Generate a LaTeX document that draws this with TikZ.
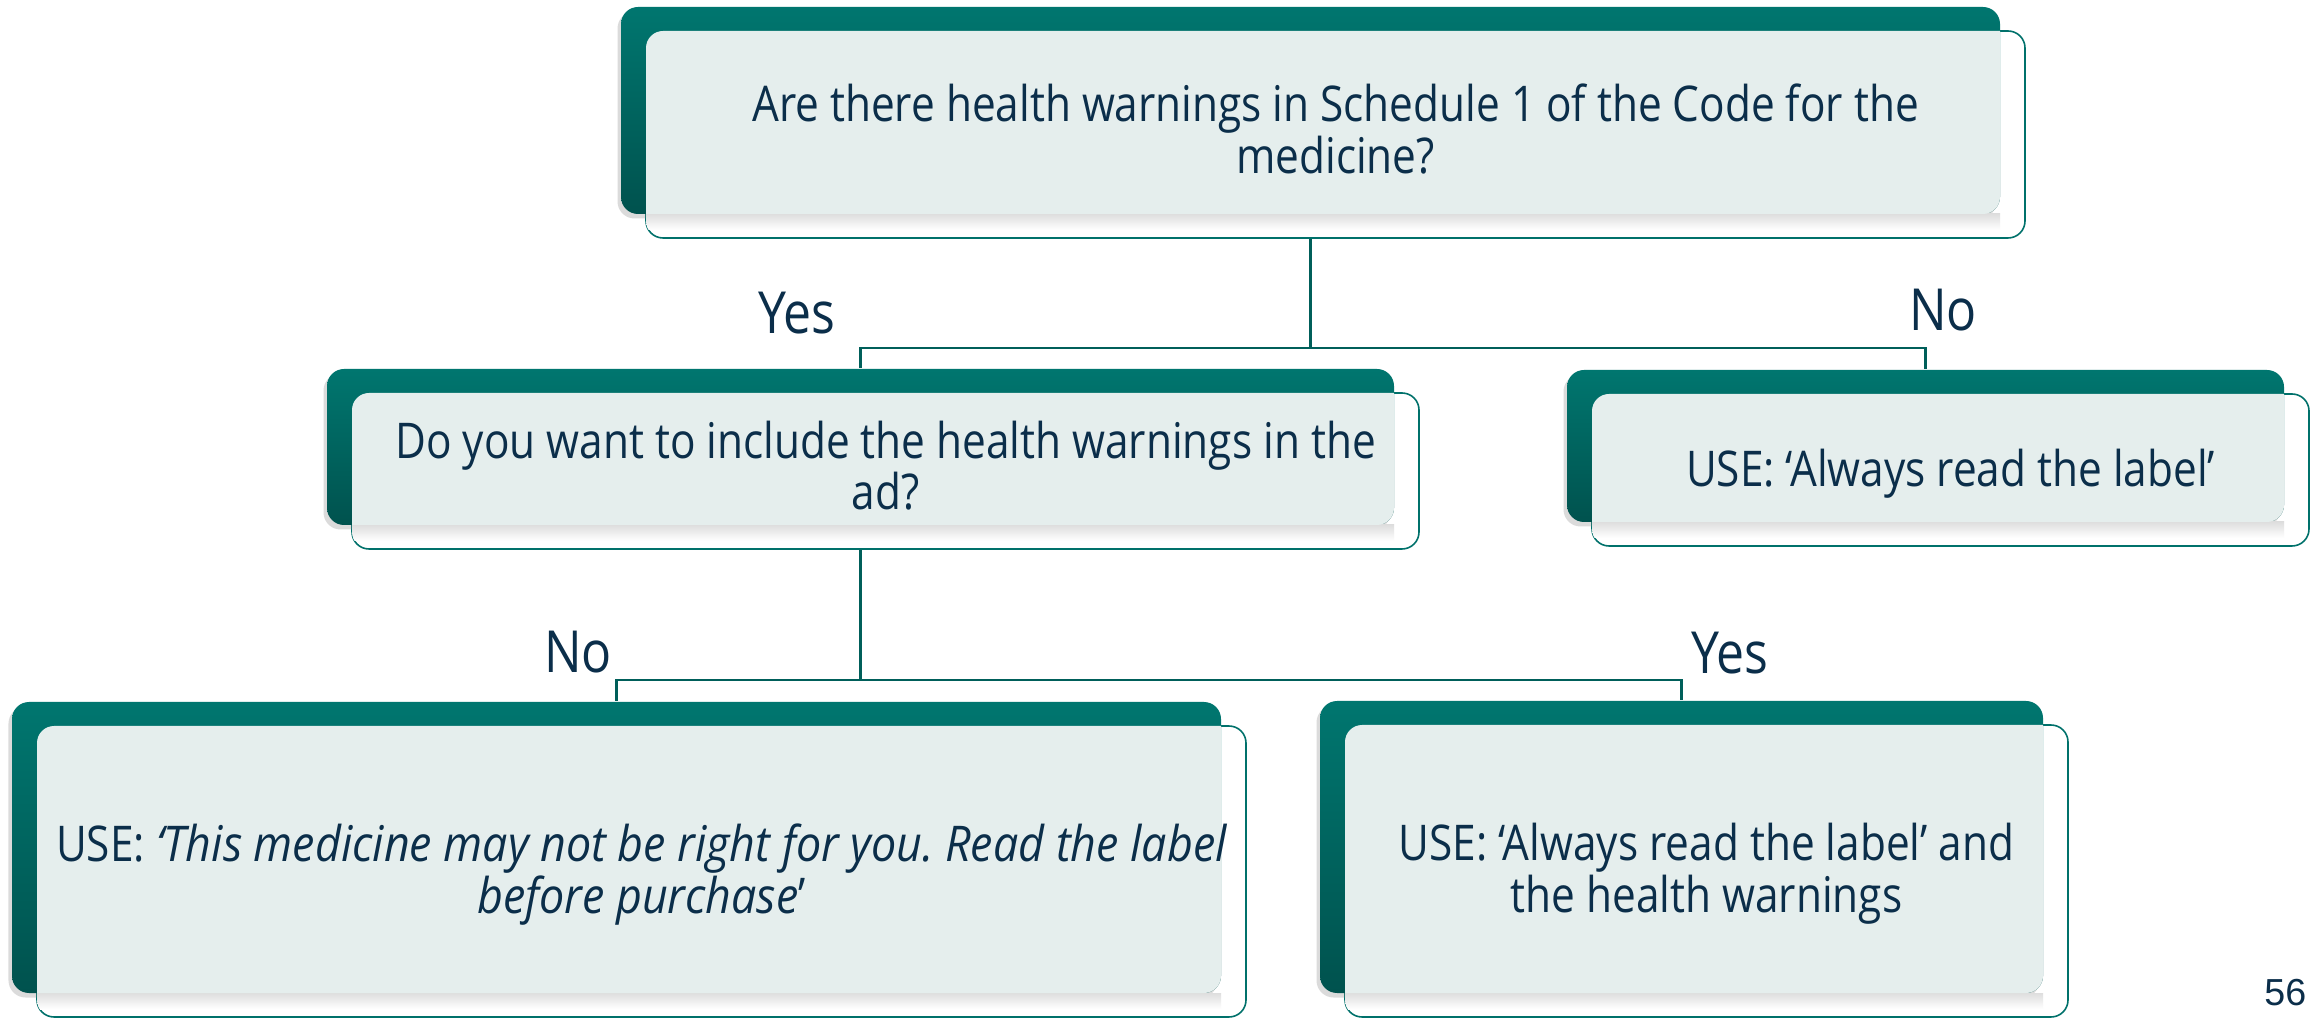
\documentclass[tikz,border=0pt]{standalone}
\usepackage{fontspec}
\setmainfont[FakeStretch=0.86]{Open Sans}
\newfontfamily\quoteit[FakeStretch=0.91]{Open Sans}
\newfontfamily\pagenumfont{Liberation Sans}
\usetikzlibrary{fit,shadows}

\definecolor{tealtop}{HTML}{00766F}
\definecolor{tealbot}{HTML}{00524E}
\definecolor{panel}{HTML}{E5EEED}
\definecolor{rim}{HTML}{00716B}
\definecolor{wire}{HTML}{005F5A}
\definecolor{ink}{HTML}{0B2E4A}

\pgfdeclarelayer{background}
\pgfsetlayers{background,main}

\tikzset{
  backcard/.style={inner sep=0pt, rounded corners=1.7mm,
    top color=tealtop, bottom color=tealbot, draw=none,
    drop shadow={shadow xshift=-0.35mm, shadow yshift=-0.45mm, opacity=0.28}},
  rimcard/.style={inner sep=0pt, rounded corners=1.7mm, fill=white,
    draw=rim, line width=0.45pt},
  cardtext/.style={align=center, text=ink, inner sep=0pt,
    font=\fontsize{14}{14.7}\selectfont},
  branchlabel/.style={text=ink, inner sep=0pt, anchor=base,
    font=\fontsize{16.5}{18}\selectfont},
  wire/.style={draw=wire, line width=0.6pt},
}

% One decision card: dark back panel, outlined front panel and the pale
% face where the two overlap.  #1 name, #2-#5 back panel corners,
% #6 vertical nudge of the text, #7 text.
\newcommand\flowcard[7]{%
  \pgfmathsetmacro\fxa{#2+25}\pgfmathsetmacro\fya{#3+24}%
  \pgfmathsetmacro\fxb{#4+25}\pgfmathsetmacro\fyb{#5+24}%
  \node[rimcard, fit={(\fxa,\fya) (\fxb,\fyb)}] (#1f) {};
  \node[backcard, fit={(#2,#3) (#4,#5)}] (#1) {};
  \begin{scope}
    \clip[rounded corners=1.7mm] (\fxa,\fya) rectangle (\fxb,\fyb);
    \shade[top color=black!13, bottom color=white] (#2,#5) rectangle (#4,#5+16);
    \fill[panel, rounded corners=1.7mm] (#2,#3) rectangle (#4,#5);
  \end{scope}
  \node[cardtext] (#1t) at ([yshift=#6]#1f.center) {#7};
}

\begin{document}
\frenchspacing
\begin{tikzpicture}[x=0.01cm, y=-0.01cm]
  \useasboundingbox (0,0) rectangle (2318,1022);

  \flowcard{q1}{621}{7}{2000}{214}{1.5pt}
    {Are there health warnings in Schedule 1 of the Code for the\\medicine?}
  \flowcard{q2}{327}{369}{1394}{525}{1.5pt}
    {Do you want to include the health warnings in the\\ad?}
  \flowcard{r1}{1567}{370}{2284}{522}{-1.1pt}
    {USE: ‘Always read the label’}
  \flowcard{r2}{12}{702}{1221}{993}{-0.8pt}
    {USE: {\quoteit\itshape ‘This medicine may not be right for you. Read the label}\\{\quoteit\itshape before purchase}’}
  \flowcard{r3}{1320}{701}{2043}{993}{-0.8pt}
    {USE: ‘Always read the label’ and\\the health warnings}

  \node[branchlabel] (yes1) at (797,334) {Yes};
  \node[branchlabel] (no1) at (1943,331) {No};
  \node[branchlabel] (no2) at (578,673) {No};
  \node[branchlabel] (yes2) at (1730,674) {Yes};

  \node[text=ink, inner sep=0pt, anchor=base east,
        font=\pagenumfont\fontsize{10.7}{12}\selectfont] (pg) at (2307,1005) {56};

  \begin{pgfonlayer}{background}
    \fill[white] (0,0) rectangle (2318,1022);
    \draw[wire] (q1.south) -- ++(0,133) -| (q2.north);
    \draw[wire] (q1.south) -- ++(0,133) -| (r1.north);
    \draw[wire] (q2.south) -- ++(0,154) -| (r2.north);
    \draw[wire] (q2.south) -- ++(0,154) -| (r3.north);
  \end{pgfonlayer}
\end{tikzpicture}
\end{document}
